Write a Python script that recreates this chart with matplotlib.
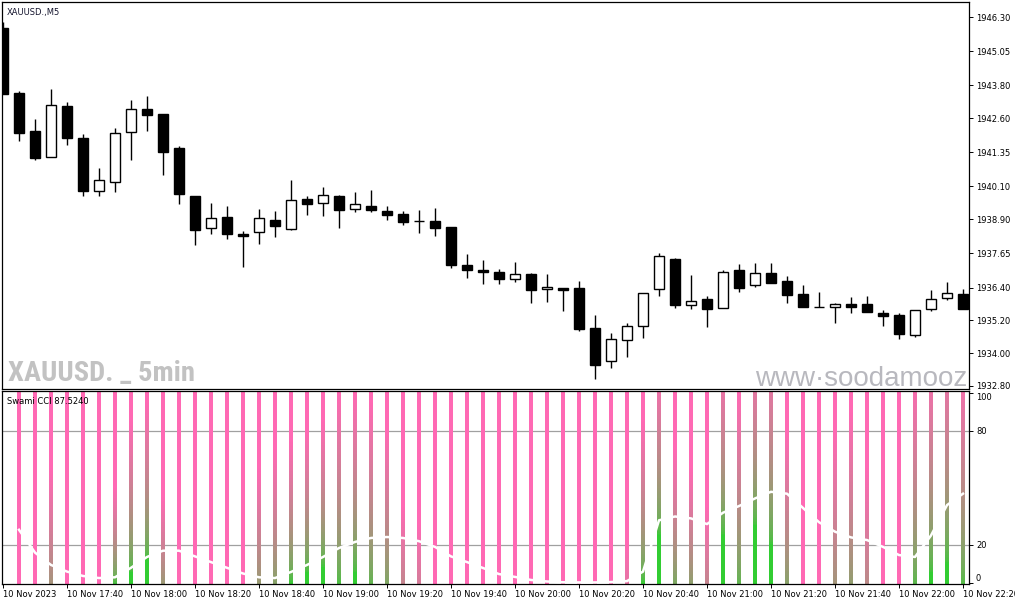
import matplotlib
matplotlib.use("Agg")
import matplotlib.pyplot as plt
from matplotlib import font_manager
import numpy as np

# ---------------- data ----------------
times = ["10 Nov 2023", "10 Nov 17:40", "10 Nov 18:00", "10 Nov 18:20", "10 Nov 18:40",
         "10 Nov 19:00", "10 Nov 19:20", "10 Nov 19:40", "10 Nov 20:00", "10 Nov 20:20",
         "10 Nov 20:40", "10 Nov 21:00", "10 Nov 21:20", "10 Nov 21:40", "10 Nov 22:00",
         "10 Nov 22:20"]

opens = [1945.90, 1943.52, 1942.13, 1941.18, 1943.04, 1941.87, 1939.93, 1940.26, 1942.09, 1942.93,
         1942.75, 1941.51, 1939.75, 1938.58, 1938.98, 1938.36, 1938.43, 1938.87, 1938.54, 1939.64,
         1939.50, 1939.75, 1939.28, 1939.39, 1939.20, 1939.09, 1938.84, 1938.84, 1938.62, 1937.23,
         1937.04, 1936.97, 1936.71, 1936.90, 1936.35, 1936.39, 1936.39, 1934.92, 1933.72, 1934.48,
         1935.00, 1936.35, 1937.45, 1935.76, 1935.98, 1935.65, 1937.04, 1936.50, 1936.93, 1936.64,
         1936.17, 1935.69, 1935.69, 1935.80, 1935.80, 1935.47, 1935.40, 1934.67, 1935.62, 1936.02,
         1936.17]
highs = [1946.12, 1943.59, 1942.57, 1943.67, 1943.19, 1942.02, 1940.78, 1942.24, 1943.26, 1943.41,
         1942.75, 1941.58, 1939.75, 1939.50, 1939.39, 1938.47, 1939.28, 1939.20, 1940.34, 1939.75,
         1940.08, 1939.79, 1939.90, 1939.97, 1939.39, 1939.20, 1939.24, 1939.31, 1938.62, 1937.63,
         1937.41, 1937.08, 1937.34, 1936.93, 1936.90, 1936.39, 1936.64, 1935.40, 1934.74, 1935.11,
         1936.20, 1937.67, 1937.48, 1936.86, 1936.09, 1937.04, 1937.26, 1937.30, 1937.30, 1936.82,
         1936.50, 1936.24, 1935.84, 1936.06, 1936.09, 1935.58, 1935.47, 1935.58, 1936.31, 1936.61,
         1936.35]
lows = [1943.48, 1941.76, 1941.07, 1941.18, 1941.62, 1939.75, 1939.75, 1939.90, 1941.07, 1942.13,
        1940.52, 1939.46, 1937.96, 1938.36, 1938.18, 1937.15, 1938.00, 1938.25, 1938.51, 1939.06,
        1939.02, 1938.58, 1939.17, 1939.17, 1938.87, 1938.69, 1938.40, 1938.29, 1937.12, 1936.75,
        1936.53, 1936.53, 1936.61, 1935.84, 1935.87, 1935.54, 1934.81, 1933.06, 1933.46, 1933.86,
        1934.56, 1936.09, 1935.65, 1935.62, 1934.96, 1935.65, 1936.24, 1936.42, 1936.57, 1935.84,
        1935.69, 1935.69, 1935.11, 1935.47, 1935.51, 1935.00, 1934.52, 1934.59, 1935.54, 1935.95,
        1935.62]
closes = [1943.48, 1942.06, 1941.14, 1943.08, 1941.87, 1939.93, 1940.34, 1942.06, 1942.93, 1942.71,
          1941.36, 1939.82, 1938.51, 1938.95, 1938.36, 1938.29, 1938.95, 1938.65, 1939.61, 1939.46,
          1939.79, 1939.24, 1939.46, 1939.24, 1939.06, 1938.80, 1938.84, 1938.58, 1937.23, 1937.04,
          1936.97, 1936.71, 1936.90, 1936.31, 1936.42, 1936.31, 1934.89, 1933.57, 1934.52, 1935.00,
          1936.20, 1937.56, 1935.76, 1935.91, 1935.62, 1936.97, 1936.39, 1936.93, 1936.57, 1936.13,
          1935.69, 1935.69, 1935.80, 1935.69, 1935.51, 1935.36, 1934.70, 1935.58, 1935.98, 1936.20,
          1935.62]

price_ticks = [1946.30, 1945.05, 1943.80, 1942.60, 1941.35, 1940.10, 1938.90,
               1937.65, 1936.40, 1935.20, 1934.00, 1932.80]

# Swami CCI (bars 1..60)
cci_line = [28, 16, 9.5, 6, 3.7, 2.6, 3, 8, 13.7, 17, 17, 14, 11, 8, 5, 3, 2.6, 5.8, 9.5, 13.7,
            18.4, 21.6, 23.7, 24.2, 23.7, 22, 19, 14, 11, 7.9, 4.7, 3.2, 1.6, 0.8, 0.4, 0.3, 0.3,
            0.5, 1, 6, 33, 35, 34, 31, 37, 40.5, 44.5, 48, 47, 39.5, 32, 27, 24, 22.6, 19, 14.7,
            13.7, 25, 41, 47]
# level below which each column is fully green / above which fully pink
green_edge = [-200, -200, -29, -200, -200, -200, -1, 5, 12, -17,
              -200, -200, -200, -200, -200, -20, -15, 0, 5, 8,
              -2, 5, -6, -14, -42, -53, -200, -200, -200, -200,
              -200, -200, -200, -200, -200, -200, -200, -200, -70, 0,
              25, -11, -16, -42, 25, -6, 30, 20, -18, -200,
              -200, -36, -26, -48, -200, -200, -5, 5, 10, -4]
pink_edge = [-100, -100, 60, -100, -100, -100, 50, 85, 95, 45,
             -100, -100, -100, -100, -100, 60, 70, 75, 80, 85,
             100, 100, 95, 80, 40, 30, -100, -100, -100, -100,
             -100, -100, -100, -100, -100, -100, -100, -100, 20, 85,
             115, 70, 60, 40, 120, 100, 125, 130, 80, -100,
             -100, 80, 90, 60, -100, -100, 110, 120, 130, 120]

# ---------------- figure ----------------
W, H = 1015, 605
fig = plt.figure(figsize=(W / 100, H / 100), dpi=100)
fig.patch.set_facecolor("white")
FONT = "DejaVu Sans"
FS = 6.0

installed = {f.name for f in font_manager.fontManager.ttflist}
if "Roboto Condensed" in installed:
    wm_family, wm_size = "Roboto Condensed", 20.5
else:
    wm_family, wm_size = "Liberation Sans", 17

ax = fig.add_axes([2 / W, 1 - 389 / H, 967 / W, 387 / H])
ax2 = fig.add_axes([2 / W, 1 - 584 / H, 967 / W, 193 / H])

n = len(opens)
x = np.arange(n)

# candles
o = np.array(opens); c = np.array(closes); hi = np.array(highs); lo = np.array(lows)
ax.vlines(x, lo, hi, color="black", lw=1.0, zorder=2)
bull = c > o
body_h = np.maximum(np.abs(c - o), 0.012)
body_b = np.minimum(o, c)
face = ["white" if b else "black" for b in bull]
ax.bar(x, body_h, bottom=body_b, width=0.66, color=face, edgecolor="black",
       linewidth=1.0, zorder=3)

ax.set_xlim(-0.0625, 60.375)
ax.set_ylim(1932.69, 1946.85)
ax.set_xticks([])
ax.yaxis.tick_right()
ax.set_yticks(price_ticks)
ax.set_yticklabels([f"{p:.2f}" for p in price_ticks])
ax.tick_params(axis="y", direction="out", length=3, width=0.7, pad=2,
               labelsize=FS, colors="black")
for lab in ax.get_yticklabels():
    lab.set_fontfamily(FONT)
for s in ax.spines.values():
    s.set_linewidth(0.9)

# watermarks
ax.text((8 - 2) / 967, (389 - 381) / 387, "XAUUSD. _ 5min", transform=ax.transAxes,
        fontsize=wm_size, fontweight="bold", color="#C2C2C2",
        family=wm_family, va="baseline", ha="left", zorder=1)
ax.text((755 - 2) / 967, (389 - 386) / 387, "www\u00b7soodamooz\u00b7com", transform=ax.transAxes,
        fontsize=20, color="#B8B8BE", family="Liberation Sans", va="baseline", ha="left",
        clip_on=True, zorder=1)
fig.text(7 / W, 1 - 12 / H, "XAUUSD.,M5", fontsize=FS, family=FONT, color="#15152e",
         va="center", ha="left")

# ---------------- Swami CCI panel ----------------
green = np.array([50, 205, 50]) / 255
pink = np.array([255, 105, 180]) / 255
xb = np.arange(1, n)
lo_v, hi_v = -2.0, 103.0
levels = np.linspace(lo_v, hi_v, 140)
for xk, g, p in zip(xb, green_edge, pink_edge):
    m = np.sqrt(np.clip((levels - g) / (p - g), 0, 1))[:, None, None]
    col = green[None, None, :] * (1 - m) + pink[None, None, :] * m
    ax2.imshow(col, extent=(xk - 0.125, xk + 0.125, lo_v, hi_v), origin="lower",
               aspect="auto", interpolation="nearest", zorder=2)

ax2.plot(xb, cci_line, color="white", lw=1.8, zorder=3, solid_joinstyle="round")
ax2.axhline(80, color="#A0A0A0", lw=0.9, zorder=1)
ax2.axhline(20, color="#A0A0A0", lw=0.9, zorder=1)

ax2.set_xlim(-0.0625, 60.375)
ax2.set_ylim(-0.53, 101.05)
ax2.set_aspect("auto")
ax2.yaxis.tick_right()
ax2.set_yticks([100, 80, 20, 0])
ax2.set_yticklabels(["100", "80", "20", "0"])
ax2.tick_params(axis="y", direction="out", length=3, width=0.7, pad=2, labelsize=FS)
ylabs = ax2.get_yticklabels()
ylabs[0].set_verticalalignment("top")
ylabs[3].set_verticalalignment("bottom")
for lab in ylabs:
    lab.set_fontfamily(FONT)

ax2.set_xticks(np.arange(0, n, 4))
ax2.set_xticklabels(times)
ax2.tick_params(axis="x", direction="out", length=3, width=0.7, pad=1.5, labelsize=FS)
for lab in ax2.get_xticklabels():
    lab.set_horizontalalignment("left")
    lab.set_fontfamily(FONT)
for s in ax2.spines.values():
    s.set_linewidth(0.9)

fig.text(7 / W, 1 - 401 / H, "Swami CCI 87.5240", fontsize=FS, family=FONT, color="black",
         va="center", ha="left")

fig.savefig("out.png", dpi=100, facecolor="white")
